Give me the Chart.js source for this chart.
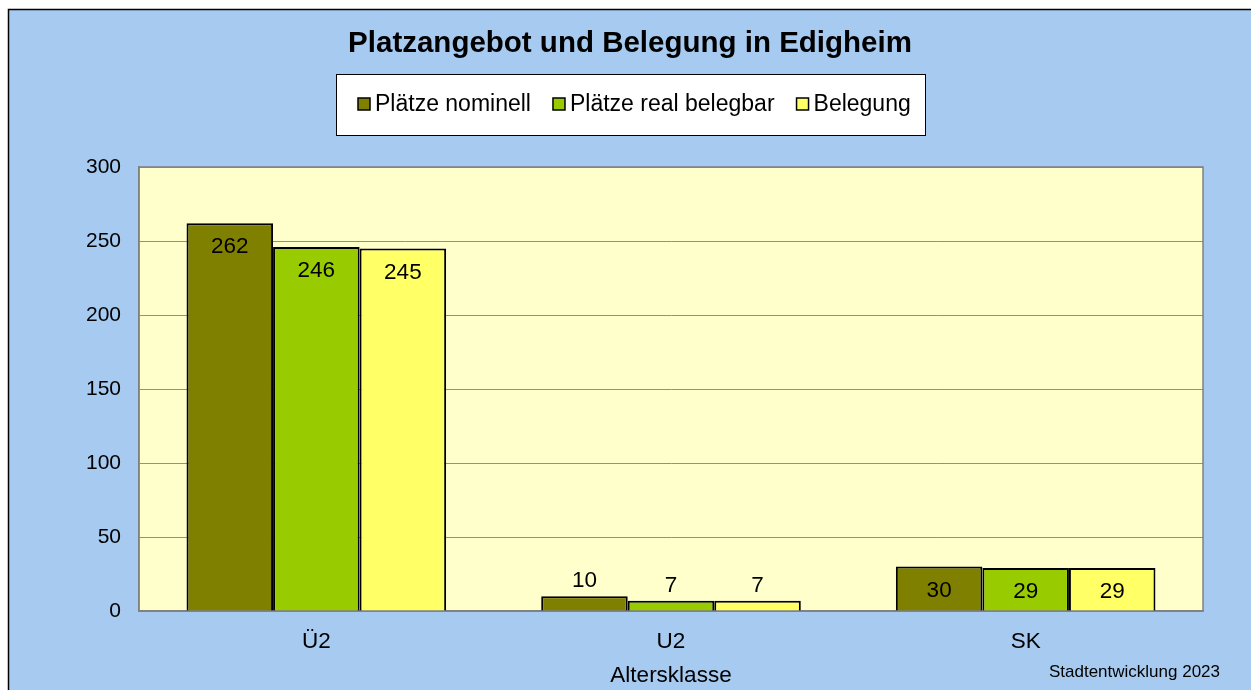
<!DOCTYPE html>
<html>
<head>
<meta charset="utf-8">
<script src="https://cdn.jsdelivr.net/npm/chart.js@4.4.1/dist/chart.umd.min.js"></script>
<style>
html, body { margin: 0; padding: 0; background: #fff; }
#wrap { width: 1251px; height: 690px; }
</style>
</head>
<body>
<div id="wrap"><canvas id="myChart" width="1251" height="690"></canvas></div>
<script>
// Daten
var categories = ['Ü2', 'U2', 'SK'];
var seriesNames = ['Plätze nominell', 'Plätze real belegbar', 'Belegung'];
var plaetzeNominell = [262, 10, 30];
var plaetzeReal = [246, 7, 29];
var belegung = [245, 7, 29];
var yTicks = [0, 50, 100, 150, 200, 250, 300];
var titleText = 'Platzangebot und Belegung in Edigheim';
var axisTitle = 'Altersklasse';
var sourceText = 'Stadtentwicklung 2023';

var seriesColors = ['#808000', '#99CC00', '#FFFF66'];
var FONT = "'Liberation Sans', Arial, sans-serif";

// Hintergrund, Rahmen, Plotfläche
var backgroundPlugin = {
	id : 'background',
	beforeDraw : function(chart) {
		var c = chart.ctx;
		var a = chart.chartArea;
		c.save();
		c.fillStyle = '#ffffff';
		c.fillRect(0, 0, chart.width, chart.height);
		c.fillStyle = '#A6CAF0';
		c.fillRect(8, 9, chart.width, chart.height);
		c.strokeStyle = '#000000';
		c.lineWidth = 1.5;
		c.strokeRect(8.5, 9.5, chart.width + 10, chart.height + 10);
		c.fillStyle = '#FFFFCC';
		c.fillRect(a.left, a.top, a.right - a.left, a.bottom - a.top);
		c.restore();
	},
	beforeDatasetsDraw : function(chart) {
		var c = chart.ctx;
		var a = chart.chartArea;
		c.save();
		c.strokeStyle = '#808080';
		c.lineWidth = 1.5;
		c.strokeRect(a.left, a.top, a.right - a.left, a.bottom - a.top);
		c.restore();
	}
};

// Werte an den Balken
var valueLabelPlugin = {
	id : 'valueLabels',
	afterDatasetsDraw : function(chart) {
		var c = chart.ctx;
		c.save();
		c.font = '22.5px ' + FONT;
		c.fillStyle = '#000000';
		c.textAlign = 'center';
		c.textBaseline = 'middle';
		chart.data.datasets.forEach(function(ds, i) {
			chart.getDatasetMeta(i).data.forEach(function(bar, j) {
				var h = bar.base - bar.y;
				var y = h > 35 ? bar.y + 24 : bar.y - 15;
				c.fillText(ds.data[j], bar.x, y);
			});
		});
		c.restore();
	}
};

// Titel, Legende, Quelle
var textPlugin = {
	id : 'texts',
	afterDraw : function(chart) {
		var c = chart.ctx;
		c.save();
		c.fillStyle = '#000000';
		c.textBaseline = 'middle';
		c.textAlign = 'center';
		c.font = 'bold 29.5px ' + FONT;
		c.fillText(titleText, 630, 44);

		// Legende
		c.fillStyle = '#ffffff';
		c.fillRect(336, 74, 589, 61);
		c.strokeStyle = '#000000';
		c.lineWidth = 1;
		c.strokeRect(336.5, 74.5, 589, 61);
		c.font = '23px ' + FONT;
		c.textAlign = 'left';
		var x = 358;
		var y = 104;
		chart.data.datasets.forEach(function(ds) {
			c.fillStyle = ds.backgroundColor;
			c.fillRect(x, y - 6, 12, 12);
			c.strokeStyle = '#000000';
			c.lineWidth = 1.5;
			c.strokeRect(x, y - 6, 12, 12);
			c.fillStyle = '#000000';
			c.fillText(ds.label, x + 17, y + 1);
			x += 17 + c.measureText(ds.label).width + 22;
		});

		c.textAlign = 'right';
		c.font = '17px ' + FONT;
		c.fillText(sourceText, 1220, 672);
		c.restore();
	}
};

var ctx = document.getElementById('myChart');
var data = {
	labels : categories,
	datasets : [ {
		label : seriesNames[0],
		data : plaetzeNominell,
		backgroundColor : seriesColors[0],
		borderColor : '#000000',
		borderWidth : 2
	}, {
		label : seriesNames[1],
		data : plaetzeReal,
		backgroundColor : seriesColors[1],
		borderColor : '#000000',
		borderWidth : 2
	}, {
		label : seriesNames[2],
		data : belegung,
		backgroundColor : seriesColors[2],
		borderColor : '#000000',
		borderWidth : 2
	} ]
};

var options = {
	responsive : false,
	animation : false,
	devicePixelRatio : 1,
	layout : {
		padding : { top : 167, left : 9, right : 48, bottom : 0 }
	},
	datasets : {
		bar : { categoryPercentage : 0.732, barPercentage : 1 }
	},
	plugins : {
		legend : { display : false },
		title : { display : false },
		tooltip : { enabled : false }
	},
	scales : {
		x : {
			grid : { display : false, drawTicks : false },
			border : { display : true, color : '#808080', width : 1.5 },
			ticks : {
				color : '#000000',
				font : { family : FONT, size : 22.5 },
				padding : 17
			},
			title : {
				display : true,
				text : axisTitle,
				color : '#000000',
				font : { family : FONT, size : 22.5 },
				padding : { top : 0, bottom : 1 }
			},
			afterFit : function(scale) {
				scale.height = 79;
			}
		},
		y : {
			min : 0,
			max : 300,
			grid : { color : '#909090', lineWidth : 1, drawTicks : false },
			border : { display : true, color : '#808080', width : 1.5 },
			ticks : {
				color : '#000000',
				font : { family : FONT, size : 21 },
				padding : 18
			},
			afterBuildTicks : function(scale) {
				scale.ticks = yTicks.map(function(v) { return { value : v }; });
			},
			afterFit : function(scale) {
				scale.width = 130;
			}
		}
	}
};

var myBarChart = new Chart(ctx, {
	type : 'bar',
	data : data,
	options : options,
	plugins : [ backgroundPlugin, valueLabelPlugin, textPlugin ]
});
</script>
</body>
</html>
